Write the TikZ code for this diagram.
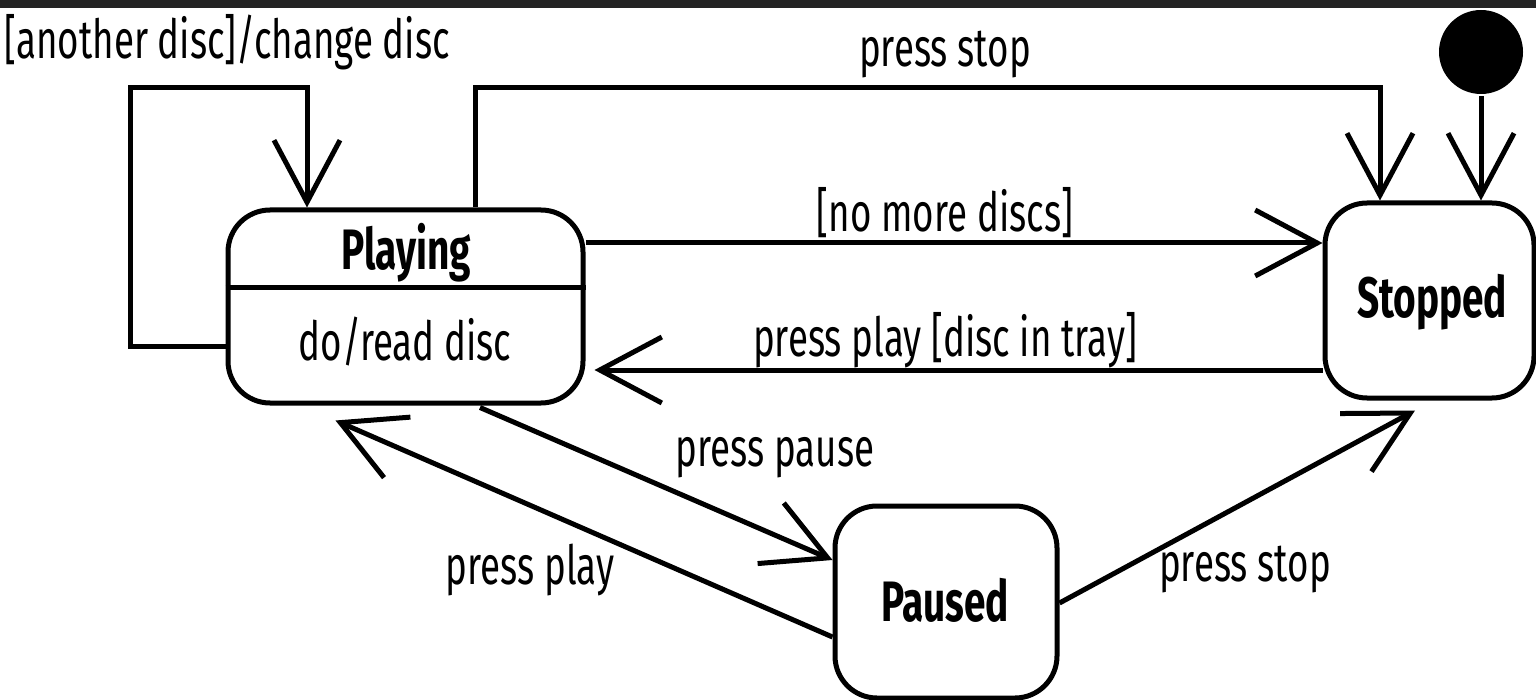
\documentclass[tikz,border=0pt]{standalone}
\usepackage{fontspec}
\setmainfont{Fira Sans}[FakeStretch=0.68]
\usetikzlibrary{arrows.meta,calc}
\begin{document}
\begin{tikzpicture}[x=1pt,y=-1pt,
  line width=5pt,
  lbl/.style={font=\fontsize{54}{60}\selectfont, inner sep=0pt},
  sname/.style={font=\fontsize{57}{62}\selectfont\bfseries, inner sep=0pt},
  state/.style={draw, rounded corners=42pt, inner sep=0pt},
  arr/.style={-{Straight Barb[length=62pt,width=66pt]}}]
\useasboundingbox (0,0) rectangle (1536,700);
\fill[white] (0,0) rectangle (1536,700);
\fill[black!86] (0,0) rectangle (1536,8);
% states
\node[state, minimum width=355pt, minimum height=193pt] (playing) at (405.5,306.5) {};
\node[sname] (playname) at (406,253) {Playing};
\node[lbl] (playdo) at (405,342) {do/read disc};
\draw ($(playing.west)+(0,-18.5)$) coordinate (divL) -- (divL -| playing.east);
\node[state, minimum width=209pt, minimum height=195pt] (stopped) at (1429.5,300.5) {};
\node[sname] (stopname) at (1432,302) {Stopped};
\node[state, minimum width=222pt, minimum height=192pt] (paused) at (946,602) {};
\node[sname] (pausename) at (945,600) {Paused};
\node[circle, fill=black, minimum size=84pt, inner sep=0pt] (init) at (1481,52) {};
% transitions
\draw[arr] (init) -- (init |- stopped.north);
\coordinate (loopC) at (130,88);
\draw[arr] ($(playing.west)+(0,40.5)$) -| (loopC) -| ($(playing.north)+(-98.5,0)$);
\coordinate (stopC) at (1380,88);
\draw[arr] ($(playing.north)+(69.5,0)$) |- (stopC) -- ($(stopped.north)+(-49.5,0)$);
\draw[arr] ($(playing.east)+(0,-63.5)$) coordinate (nm) -- (nm -| stopped.west);
\draw[arr, shorten >=9pt] ($(stopped.west)+(0,69.5)$) coordinate (pp) -- (pp -| playing.east);
\draw[arr] ($(playing.south)+(74.5,2)$) -- ($(paused.west)+(0,-42)$);
\draw[arr] ($(paused.west)+(0,35)$) -- ($(playing.south)+(-70,15)$);
\draw[arr] ($(paused.east)+(0,1)$) -- ($(stopped.south)+(-14.5,10)$);
% labels
\node[lbl, anchor=west] (l1) at (2,42) {[another disc]/change disc};
\node[lbl] (l2) at (945,55) {press stop};
\node[lbl] (l3) at (945,213) {[no more discs]};
\node[lbl] (l4) at (945,340) {press play [disc in tray]};
\node[lbl] (l5) at (775,458) {press pause};
\node[lbl] (l6) at (530,570) {press play};
\node[lbl] (l7) at (1245,570) {press stop};
\end{tikzpicture}
\end{document}
